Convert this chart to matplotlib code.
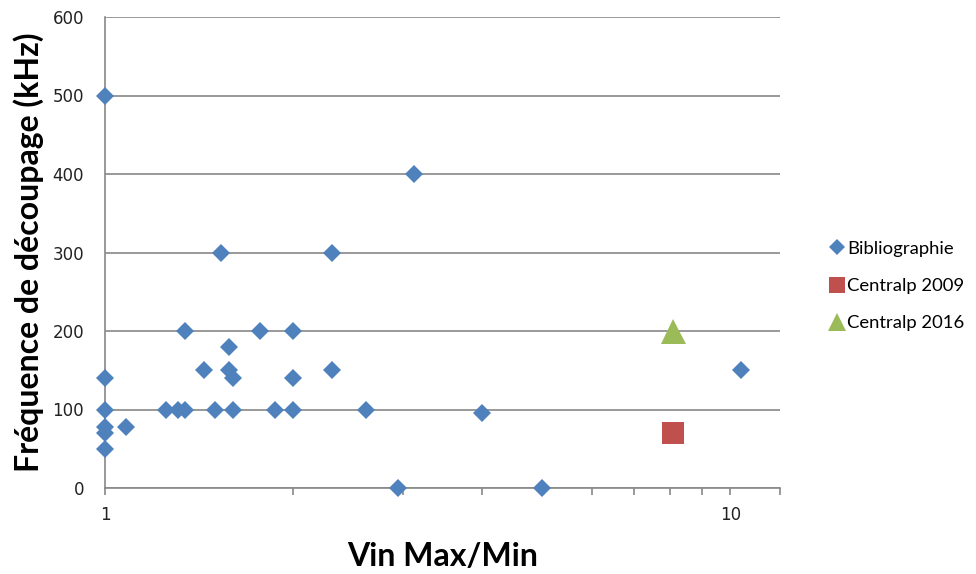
import matplotlib
matplotlib.use("Agg")
import matplotlib.pyplot as plt
from matplotlib.lines import Line2D
from matplotlib.ticker import FixedLocator, NullFormatter, FixedFormatter

# Data
biblio_x = [1.0, 1.0, 1.0, 1.0, 1.0, 1.0, 1.08, 1.25, 1.31, 1.34, 1.34, 1.44, 1.50, 1.53,
            1.58, 1.58, 1.60, 1.60, 1.77, 1.87, 2.0, 2.0, 2.0, 2.31, 2.31, 2.61, 2.94,
            3.12, 4.0, 5.0, 10.4]
biblio_y = [500, 140, 100, 78, 70, 50, 78, 100, 100, 100, 200, 150, 100, 300,
            180, 150, 140, 100, 200, 100, 200, 140, 100, 300, 150, 100, 0,
            400, 95, 0, 150]
c2009_x = [8.1]
c2009_y = [70]
c2016_x = [8.1]
c2016_y = [200]
series_labels = ["Bibliographie", "Centralp 2009", "Centralp 2016"]
x_ticks = [1, 10]
x_ticklabels = ["1", "10"]
y_ticks = [0, 100, 200, 300, 400, 500, 600]

blue = "#4F81BD"
red = "#C0504D"
green = "#9BBB59"
grid_c = "#888888"

fig = plt.figure(figsize=(9.76, 5.74), dpi=100)
ax = fig.add_axes([105/976, 1-488/574, (780-105)/976, (488-17)/574])

ax.set_xscale("log")
ax.set_xlim(1, 12)
ax.set_ylim(0, 600)

ax.plot(biblio_x, biblio_y, linestyle="none", marker="D", markersize=9.5,
        color=blue, markeredgewidth=0, clip_on=False, zorder=3)
ax.plot(c2009_x, c2009_y, linestyle="none", marker="s", markersize=16.5,
        color=red, markeredgewidth=0, clip_on=False, zorder=3)
ax.plot(c2016_x, c2016_y, linestyle="none", marker="^", markersize=18,
        color=green, markeredgewidth=0, clip_on=False, zorder=3)

ax.set_yticks(y_ticks)
ax.yaxis.grid(True, color=grid_c, linewidth=1.2)
ax.set_axisbelow(True)
ax.tick_params(axis="y", length=0, pad=15, labelsize=12, labelcolor="#222222")

ax.xaxis.set_major_locator(FixedLocator(x_ticks))
ax.xaxis.set_major_formatter(FixedFormatter(x_ticklabels))
ax.xaxis.set_minor_locator(FixedLocator([2, 3, 4, 5, 6, 7, 8, 9, 12]))
ax.xaxis.set_minor_formatter(NullFormatter())
ax.tick_params(axis="x", which="both", direction="out", length=5, width=1.2,
               color=grid_c, pad=8, labelsize=12, labelcolor="#222222")

for s in ["top", "right"]:
    ax.spines[s].set_visible(False)
for s in ["left", "bottom"]:
    ax.spines[s].set_color(grid_c)
    ax.spines[s].set_linewidth(1.2)

ax.set_xlabel("Vin Max/Min", fontsize=23, fontweight="bold", family="Lato", labelpad=13)
ax.set_ylabel("Fréquence de découpage (kHz)", fontsize=23, fontweight="bold",
              family="Lato", labelpad=6)

handles = [
    Line2D([], [], linestyle="none", marker="D", markersize=8.5, color=blue, markeredgewidth=0),
    Line2D([], [], linestyle="none", marker="s", markersize=11.5, color=red, markeredgewidth=0),
    Line2D([], [], linestyle="none", marker="^", markersize=12.5, color=green, markeredgewidth=0),
]
fig.legend(handles, series_labels, loc="center left", bbox_to_anchor=(820/976, 1-286/574),
           frameon=False, borderpad=0, handlelength=0.8, handletextpad=0.15,
           labelspacing=1.15, prop={"family": "Lato", "size": 13.3})

fig.savefig("out.png", dpi=100)
